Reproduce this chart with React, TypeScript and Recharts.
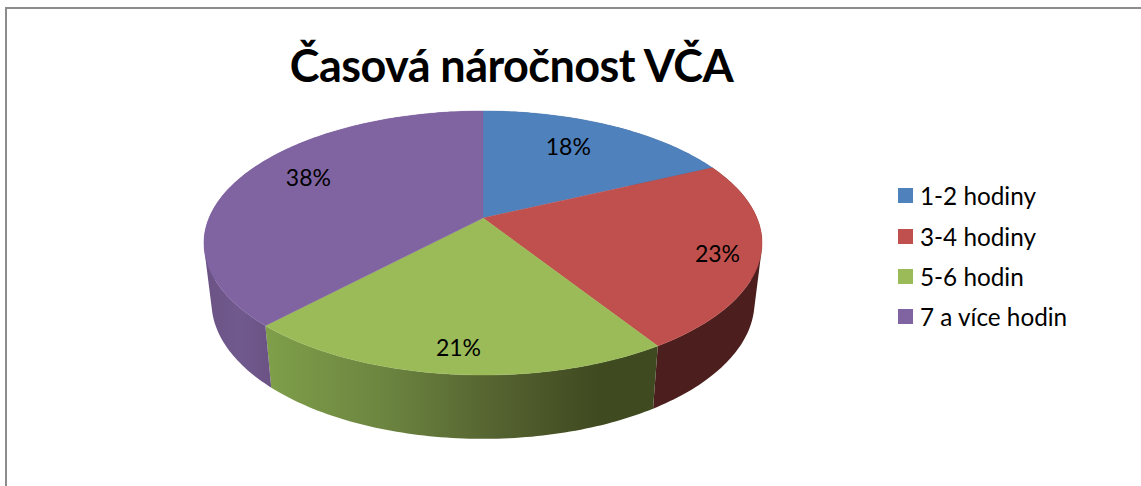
import React from 'react';
import { PieChart, Pie, Legend } from 'recharts';

const categories = ['1-2 hodiny', '3-4 hodiny', '5-6 hodin', '7 a více hodin'];
const shares = [18, 23, 21, 38];
const topColors = ['#4f81bd', '#c0504d', '#9bbb59', '#8064a2'];
const title = 'Časová náročnost VČA';

const tableData = categories.map((name, i) => ({ name, value: shares[i], fill: topColors[i], index: i }));

const CX = 483;
const CY = 218;
const RADIUS = 274;
const PERSPECTIVE = 0.1894;
const TOP_Y_SCALE = 127.3 / 274;
const BOTTOM_X_SCALE = 266.6 / 274;
const BOTTOM_Y_SCALE = 132 / 274;
const BOTTOM_CY = 276;
const LABEL_RHO = 0.75;
const LABEL_NUDGE = [[-13, 0], [29, 7], [-2, 18], [7, -8]];
const FONT = 'Lato, "Open Sans", sans-serif';

function project(angleDeg: number, rho: number, cy: number, sx: number, sy: number) {
  const t = ((90 - angleDeg) * Math.PI) / 180;
  const X = rho * Math.sin(t);
  const Y = rho * Math.cos(t);
  const d = 1 + PERSPECTIVE * Y;
  return [CX + (RADIUS * sx * X) / d, cy - (RADIUS * sy * Y) / d];
}
const topPoint = (a: number, rho = 1) => project(a, rho, CY, 1, TOP_Y_SCALE);
const bottomPoint = (a: number) => project(a, 1, BOTTOM_CY, BOTTOM_X_SCALE, BOTTOM_Y_SCALE);

function arc(start: number, end: number, fn: (a: number) => number[]) {
  const steps = Math.max(2, Math.ceil(Math.abs(end - start)));
  const out: number[][] = [];
  for (let i = 0; i <= steps; i++) out.push(fn(start + ((end - start) * i) / steps));
  return out;
}
const toPath = (pts: number[][]) =>
  'M' + pts.map((p) => `${p[0].toFixed(2)},${p[1].toFixed(2)}`).join('L') + 'Z';

function signedArea(pts: number[][]) {
  let s = 0;
  pts.forEach((p, i) => {
    const q = pts[(i + 1) % pts.length];
    s += p[0] * q[1] - q[0] * p[1];
  });
  return s;
}

function TopFace(props: any) {
  const { startAngle, endAngle, fill } = props;
  const pts = [[CX, CY], ...arc(startAngle, endAngle, (a) => topPoint(a))];
  return <path d={toPath(pts)} fill={fill} stroke={fill} strokeWidth={0.4} />;
}

const wallStops: [number, string][][] = [
  [[0, '#3a5a80'], [1, '#3a5a80']],
  [[0, '#4c1f1e'], [1, '#4c1f1e']],
  [[0, '#7f9f4a'], [0.3, '#6c8540'], [0.62, '#525f2e'], [0.85, '#3f4a20'], [1, '#3f4a20']],
  [[0, '#6b5285'], [0.5, '#705a8d'], [1, '#6b5285']],
];

function Wall(props: any) {
  const { startAngle, endAngle, payload } = props;
  const i = payload.index;
  const id = `wall-${i}`;
  const top = arc(startAngle, endAngle, (a) => topPoint(a));
  const bottom = arc(startAngle, endAngle, bottomPoint);
  const quads: string[] = [];
  for (let n = 0; n < top.length - 1; n++) {
    const q = [top[n], top[n + 1], bottom[n + 1], bottom[n]];
    quads.push(toPath(signedArea(q) < 0 ? [...q].reverse() : q));
  }
  const xs = [...top, ...bottom].map((p) => p[0]);
  return (
    <g>
      <defs>
        <linearGradient
          id={id}
          gradientUnits="userSpaceOnUse"
          x1={i === 3 ? 204 : Math.min(...xs)}
          x2={i === 3 ? 272 : Math.max(...xs)}
          y1={0}
          y2={0}
        >
          {wallStops[i].map(([o, c]) => (
            <stop key={o} offset={o} stopColor={c} />
          ))}
        </linearGradient>
      </defs>
      <path d={quads.join('')} fill={`url(#${id})`} stroke="none" />
    </g>
  );
}

function renderLabel(props: any) {
  const { midAngle, index, value } = props;
  const [x, y] = topPoint(midAngle, LABEL_RHO);
  const [dx, dy] = LABEL_NUDGE[index];
  return (
    <text
      x={x + dx}
      y={y + dy}
      textAnchor="middle"
      dominantBaseline="central"
      fontFamily={FONT}
      fontSize={23}
      fill="#000"
    >
      {`${value}%`}
    </text>
  );
}

function LegendList(props: any) {
  const items = (props.payload || []).filter((p: any) => p.type !== 'none');
  return (
    <div style={{ fontFamily: FONT, fontSize: 24.3, color: '#000' }}>
      {items.map((item: any) => (
        <div key={item.value} style={{ display: 'flex', alignItems: 'center', height: 40.4, whiteSpace: 'nowrap' }}>
          <span style={{ width: 15, height: 15, background: item.color, marginRight: 7, flex: 'none' }} />
          <span>{item.value}</span>
        </div>
      ))}
    </div>
  );
}

export default function App() {
  return (
    <div style={{ position: 'absolute', left: 0, top: 0, width: 1141, height: 486, background: '#fff', overflow: 'hidden' }}>
      <PieChart width={1141} height={486} margin={{ top: 0, right: 0, bottom: 0, left: 0 }}>
        <Pie
          data={tableData}
          dataKey="value"
          nameKey="name"
          cx={CX}
          cy={CY}
          outerRadius={RADIUS}
          startAngle={90}
          endAngle={-270}
          paddingAngle={0}
          legendType="none"
          shape={Wall}
          isAnimationActive={false}
          label={false}
          labelLine={false}
        />
        <Pie
          data={tableData}
          dataKey="value"
          nameKey="name"
          cx={CX}
          cy={CY}
          outerRadius={RADIUS}
          startAngle={90}
          endAngle={-270}
          paddingAngle={0}
          legendType="square"
          shape={TopFace}
          isAnimationActive={false}
          label={renderLabel}
          labelLine={false}
        />
        <Legend
          layout="vertical"
          align="right"
          verticalAlign="top"
          content={<LegendList />}
          wrapperStyle={{ left: 898, top: 175.5, width: 230 }}
        />
      </PieChart>
      <div
        style={{
          position: 'absolute',
          left: 240,
          top: 34,
          width: 543,
          textAlign: 'center',
          fontFamily: FONT,
          fontWeight: 700,
          fontSize: 45,
          letterSpacing: -0.55,
          lineHeight: '62px',
          whiteSpace: 'nowrap',
          color: '#000',
        }}
      >
        {title}
      </div>
      <div style={{ position: 'absolute', left: 5, top: 7, width: 1136, height: 2, background: '#8c8c8c' }} />
      <div style={{ position: 'absolute', left: 5, top: 7, width: 2, height: 479, background: '#8c8c8c' }} />
    </div>
  );
}
